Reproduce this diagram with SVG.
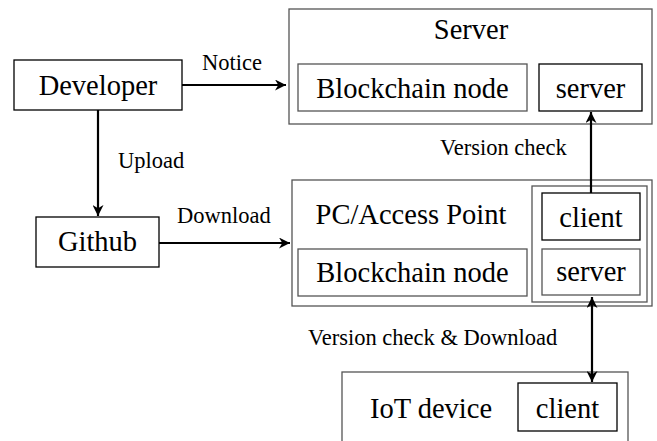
<svg xmlns="http://www.w3.org/2000/svg" width="657" height="441" viewBox="0 0 657 441" font-family="'Liberation Serif', 'DejaVu Serif', serif">
  <style>
    .box { fill: #fff; stroke: #000; stroke-width: 1.3; }
    .gbox { fill: #fff; stroke: #555; stroke-width: 1.3; }
    text { font-family: 'Liberation Serif', 'Times New Roman', 'DejaVu Serif', serif; fill: #000; }
    .big { font-size: 28.5px; text-anchor: middle; }
    .lbl { font-size: 22.5px; }
    .edge { stroke: #000; stroke-width: 2.2; fill: none; }
  </style>
  <defs>
    <marker id="arr" viewBox="0 0 10 10" refX="10" refY="5" markerWidth="5" markerHeight="5" orient="auto-start-reverse" markerUnits="strokeWidth">
      <path d="M0,0 L10,5 L0,10 L3,5 z" fill="#000"/>
    </marker>
  </defs>

  <g id="developer">
    <rect class="box" x="14" y="60" width="168" height="50"/>
    <text class="big" x="98" y="95">Developer</text>
  </g>

  <g id="github">
    <rect class="box" x="36" y="217" width="123" height="50"/>
    <text class="big" x="97.5" y="251">Github</text>
  </g>

  <g id="server">
    <rect class="gbox" x="289" y="9" width="363" height="115"/>
    <text class="big" x="471" y="39">Server</text>
    <rect class="gbox" x="298" y="64" width="229" height="47"/>
    <text class="big" x="412.5" y="98">Blockchain node</text>
    <rect class="box" x="539" y="64" width="103" height="47"/>
    <text class="big" x="590.5" y="98">server</text>
  </g>

  <g id="pc-access-point">
    <rect class="gbox" x="292" y="180" width="360" height="126"/>
    <text class="big" x="411" y="224">PC/Access Point</text>
    <rect class="gbox" x="298" y="249" width="229" height="47"/>
    <text class="big" x="412.5" y="282">Blockchain node</text>
    <rect class="gbox" x="532" y="186" width="115" height="116"/>
    <rect class="box" x="542" y="193" width="98" height="47"/>
    <text class="big" x="591" y="227">client</text>
    <rect class="gbox" x="542" y="249" width="98" height="46"/>
    <text class="big" x="591" y="281">server</text>
  </g>

  <g id="iot-device">
    <rect class="gbox" x="342" y="372" width="286" height="80"/>
    <text class="big" x="431" y="418">IoT device</text>
    <rect class="box" x="518" y="383" width="99" height="48"/>
    <text class="big" x="567.5" y="418">client</text>
  </g>

  <g id="connectors">
    <line class="edge" x1="182" y1="85" x2="286" y2="85" marker-end="url(#arr)"/>
    <line class="edge" x1="98" y1="110" x2="98" y2="216" marker-end="url(#arr)"/>
    <line class="edge" x1="159" y1="243" x2="290" y2="243" marker-end="url(#arr)"/>
    <line class="edge" x1="591" y1="193" x2="591" y2="112" marker-end="url(#arr)"/>
    <line class="edge" x1="592" y1="297" x2="592" y2="382" marker-start="url(#arr)" marker-end="url(#arr)"/>
    <text class="lbl" x="202" y="70">Notice</text>
    <text class="lbl" x="118" y="168">Upload</text>
    <text class="lbl" x="177" y="223">Download</text>
    <text class="lbl" x="440" y="155">Version check</text>
    <text class="lbl" x="308" y="345">Version check &amp; Download</text>
  </g>
</svg>
